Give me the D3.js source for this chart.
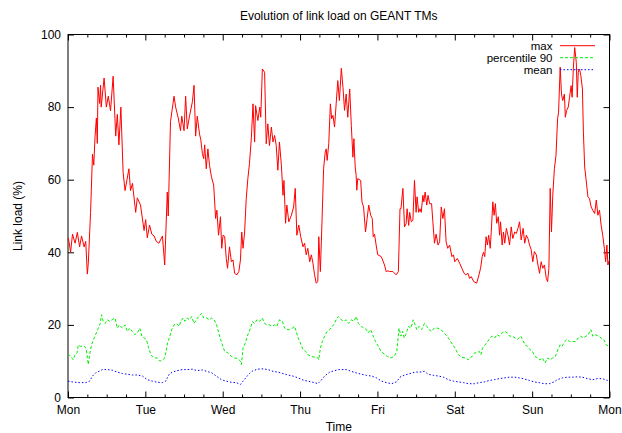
<!DOCTYPE html>
<html><head><meta charset="utf-8">
<script src="https://cdn.jsdelivr.net/npm/d3@7"></script>
<style>
html,body{margin:0;padding:0;background:#fff;}
svg{display:block;font-family:"Liberation Sans",Arial,Helvetica,sans-serif;}
</style></head>
<body><svg id="c" width="622" height="433"></svg>
<script>
const dayLabels = ["Mon","Tue","Wed","Thu","Fri","Sat","Sun","Mon"];
const yTicks = [0,20,40,60,80,100];
const seriesNames = ["max","percentile 90","mean"];
// [hour since Monday 00:00, link load %]
const maxLoad = [[0,44],[0.3,43],[0.8,40],[1.4,45],[2.2,42.5],[2.9,45.5],[3.6,41.5],[4.2,44.5],[5.0,41.5],[5.5,43],[6.0,34],[6.3,37],[7.0,51],[7.6,67],[8.0,64],[8.4,72],[8.8,77],[9.1,70],[9.3,85.5],[9.8,81],[10.1,86],[10.3,80],[11.2,88],[11.9,80],[12.5,83],[13.2,79],[14.0,88.5],[14.8,72],[15.3,78],[15.8,69.6],[16.4,80],[17.1,62],[17.7,57],[18.3,60],[18.9,63],[19.4,57],[20.0,59],[21.0,51],[21.5,55],[22.5,53],[23.6,46],[24.1,49],[24.6,44],[25.3,47.5],[26.0,45],[26.7,44.5],[27.4,43],[28.2,42.5],[29.3,44.5],[30.0,36.5],[30.8,56.6],[31.1,50],[31.8,76],[32.9,83],[33.4,80],[34.2,77],[34.9,73.5],[35.3,77.5],[36.0,73.5],[36.5,83],[37.0,74],[37.7,77.5],[38.6,81.5],[39.1,86],[39.6,72],[40.1,77.5],[40.8,72.6],[41.2,71],[41.7,67.2],[42.1,65.8],[42.4,69.6],[42.9,63],[43.4,68.5],[43.9,64],[44.5,60.8],[45.2,58.5],[45.8,49.3],[46.2,51.6],[46.7,44.7],[47.3,49.8],[47.7,41.1],[48.1,44.7],[48.6,44.4],[49.1,38.3],[49.5,35.6],[50.1,41.5],[50.7,37.4],[51.2,37.9],[51.7,34.2],[52.4,33.8],[53.0,34.7],[53.5,37.9],[53.9,45.6],[54.3,41.1],[54.8,45.6],[55.3,54.8],[55.8,60.3],[56.3,64.4],[56.9,71.7],[57.4,80.9],[57.9,70.4],[58.2,80.4],[58.9,76.3],[59.5,80],[59.8,77.2],[60.3,90.5],[61.0,89.6],[61.5,69.9],[62.0,75.4],[62.5,69.4],[63.1,74.5],[63.6,70.4],[64.1,72.2],[64.6,69.4],[65.1,62.6],[65.6,70.4],[66.2,64],[66.7,55.7],[67.0,59.8],[67.5,48],[67.9,53],[68.5,48.4],[69.3,50.2],[70.0,52.5],[70.5,57.6],[71.0,44.7],[71.6,47.5],[72.2,44.3],[72.9,41.5],[73.4,42.5],[73.9,39.3],[74.4,41.1],[75.0,37.4],[75.5,39.3],[76.0,37],[76.5,33.8],[77.0,31.5],[77.5,31.9],[77.8,44.3],[78.3,34.7],[78.8,48.4],[79.3,63],[79.8,67.6],[80.1,68.5],[80.4,65.3],[80.9,69.9],[81.4,80.9],[81.8,76.8],[82.2,77.7],[82.7,74.5],[83.2,80.9],[83.7,87.3],[84.2,81.8],[84.8,90.7],[85.3,85.5],[85.8,79.1],[86.3,83.6],[86.8,77.2],[87.4,85],[87.9,74.9],[88.4,66.2],[88.7,71.3],[89.1,63.5],[89.4,61.2],[89.6,57.1],[89.9,60.3],[90.8,59.8],[91.2,53.9],[91.7,52.5],[92.3,45.6],[92.8,49.3],[93.3,53],[93.9,50.2],[94.4,49.3],[94.7,44.3],[95.1,45],[95.6,42],[96.1,39.3],[97.2,38.8],[98.2,36.5],[98.7,34.7],[99.3,34.9],[99.8,34.7],[100.8,34.7],[101.8,33.8],[102.5,34.7],[103.0,52],[103.3,52],[103.9,57.6],[104.4,47],[104.9,47.9],[105.2,52],[105.7,47.4],[106.0,51],[106.5,48.4],[107.0,48.8],[107.5,59.8],[108.0,51],[108.3,55.3],[108.8,51],[109.2,52],[109.6,51],[110.1,55.7],[110.4,53.9],[110.8,56.6],[111.3,53],[111.7,55.7],[112.2,53.4],[112.8,53.4],[113.2,48.4],[113.7,42.5],[114.2,45],[114.8,42],[115.3,42.9],[115.8,52.5],[116.3,49.3],[116.8,52],[117.3,42.9],[117.8,41.1],[118.4,42],[119.1,38.8],[119.6,39.3],[120.0,37.4],[120.8,38.3],[121.5,37],[122.2,35.6],[122.9,34.2],[123.4,33.8],[124.1,34.2],[124.6,32.8],[125.1,33.3],[125.9,31.9],[126.8,31.5],[127.5,33.8],[128.0,35.6],[128.5,38.8],[128.9,40],[129.3,38.8],[129.7,44.3],[130.1,42],[130.5,44.7],[131.0,41.1],[131.4,47],[131.8,53.9],[132.2,50.2],[132.6,53.4],[133.0,48],[133.5,49.8],[133.9,44.7],[134.2,48.4],[134.7,42],[135.1,45.6],[135.5,42.5],[136.0,46.6],[136.5,44.7],[137.0,42],[137.5,47],[138.0,43.8],[138.6,45.6],[139.1,45.2],[139.6,46.6],[140.1,48.4],[140.6,43.4],[141.2,46.6],[141.7,42.5],[142.2,44.7],[142.7,43.8],[143.2,42],[143.7,40.7],[144.2,37.4],[144.7,40.2],[145.3,39.3],[145.8,36.5],[146.3,34.2],[146.8,37.4],[147.3,35.6],[147.8,36.5],[148.4,32.8],[148.8,31.9],[149.2,35.6],[149.6,57.6],[150.0,45.6],[150.4,55.7],[150.9,63],[151.4,66.7],[151.9,76.8],[152.2,78.6],[152.7,91],[153.1,83.6],[153.5,81.8],[154.0,83.6],[154.3,77.2],[154.7,79.1],[155.2,80],[155.6,82.7],[156.1,85.9],[156.4,82.7],[156.8,91],[157.2,96.4],[157.7,92.3],[158.0,82.7],[158.3,89.6],[158.7,90.5],[159.1,88.7],[159.6,85],[159.9,73.1],[160.3,63.5],[160.7,60.3],[161.3,55.3],[161.8,54.8],[162.3,52.5],[162.8,51.6],[163.4,50.7],[163.9,54.4],[164.4,50.2],[164.9,51.6],[165.4,47.5],[165.9,44.7],[166.4,41.1],[166.8,37.4],[167.2,42],[167.5,36.5],[168,38]];
const p90Load = [[0,12],[0.3,11.8],[0.8,11.3],[1.6,10.4],[2.2,11.8],[2.8,12.3],[3.2,14.5],[3.9,14.1],[5.0,14.1],[5.6,13.6],[6.3,9.1],[6.7,11.8],[7.3,14.5],[8.1,16.4],[8.8,17.8],[9.4,19.1],[10.0,20.4],[10.4,22.8],[10.9,21],[11.5,20.4],[12.2,21.4],[12.9,21],[13.7,21.4],[14.6,21.9],[15.3,19.1],[16.0,20],[16.9,19.1],[17.7,20],[18.4,18.2],[19.2,19.1],[19.9,18.2],[20.7,17.3],[21.5,17.8],[22.3,19.1],[22.9,16.9],[23.6,16.4],[24.3,16],[24.9,14.1],[25.7,11.8],[26.7,10.9],[27.7,10.9],[28.5,10],[29.4,10.4],[30.0,10.9],[30.4,12.7],[30.9,15],[31.6,16.9],[32.2,18.7],[32.9,20],[33.6,20.4],[34.5,19.6],[35.0,21],[35.7,21.9],[36.3,21],[37.0,21.9],[37.7,21.4],[38.4,22.3],[39.1,20.4],[39.8,21.4],[40.6,22.3],[41.5,23.2],[42.1,21.9],[43.0,21.9],[43.8,21.4],[44.6,21.9],[45.3,21.4],[46.0,20.4],[46.5,18.7],[47.2,16.4],[47.9,14.5],[48.6,12.7],[49.6,12.3],[50.7,11.3],[51.7,10.9],[52.7,10.7],[53.5,10],[53.8,9.1],[54.3,13.6],[55.0,15],[55.8,17.3],[56.6,19.1],[57.2,20.9],[57.9,20.4],[58.6,21.4],[59.5,21],[60.3,21.9],[61.0,20.4],[61.7,20],[62.5,20],[63.4,19.6],[64.1,20],[64.8,19.6],[65.6,21.4],[66.5,21],[67.2,19.1],[67.9,18.7],[68.7,18.7],[69.6,19.1],[70.3,19.6],[70.8,18.2],[71.4,16.4],[72.1,15],[72.9,13.2],[73.7,12.7],[74.4,11.8],[75.5,11.3],[76.5,11.1],[77.5,10.9],[77.8,10.4],[78.3,13.6],[78.9,15.4],[79.6,16.9],[80.4,18.2],[81.2,18.7],[82.0,19.6],[82.7,20.4],[83.4,21.9],[84.0,22.3],[84.8,21.4],[85.6,21],[86.3,21.4],[87.1,20.4],[87.9,21.4],[88.7,21],[89.4,22.3],[90.1,20.4],[91.0,19.6],[91.8,19.1],[92.6,18.7],[93.1,17.8],[93.9,18.7],[94.7,16.9],[95.4,15.4],[96.3,14.1],[97.1,12.7],[98.1,12],[99.1,11.3],[100.2,10.9],[101.2,11.3],[102.0,12.7],[102.4,16.4],[102.7,19.1],[103.3,16.9],[103.8,18.2],[104.3,16.4],[104.8,17.3],[105.6,19.6],[106.4,19.1],[107.1,21.4],[107.7,20],[108.2,18.7],[108.9,19.6],[109.7,18.7],[110.6,20.4],[111.3,19.6],[112.0,18.7],[112.8,18.2],[113.6,19.1],[114.7,19.1],[115.7,18.7],[116.7,17.8],[118.0,16.4],[119.0,15],[120.1,13.6],[121.1,11.8],[122.1,11.1],[123.2,10.9],[124.2,10.4],[124.6,10.9],[125.4,11.3],[126.1,12.3],[126.8,12.3],[127.6,12.7],[128.1,11.8],[128.6,13.6],[129.4,14.5],[130.2,15.4],[130.9,16.4],[131.6,16.9],[132.4,16.4],[133.1,17.3],[133.9,16.9],[134.7,17.8],[135.5,18.2],[136.3,17.8],[137.0,16.9],[137.8,16.9],[138.7,16.4],[139.4,16],[139.9,16.4],[140.5,16.9],[141.0,16],[141.8,14.5],[142.6,14.1],[143.3,13.2],[144.1,12.7],[144.9,11.3],[145.7,10.9],[146.4,10.4],[147.2,10.9],[148.0,9.5],[148.8,10.9],[149.6,10.4],[150.4,10.9],[151.2,11.3],[152.0,13.2],[152.7,14.5],[153.3,14.1],[154.1,15.4],[154.8,16],[155.6,15.4],[156.7,15.4],[157.5,15.4],[158.3,16.4],[159.0,16.9],[159.9,16.4],[160.7,16.9],[161.4,17.3],[162.2,18.7],[162.8,16.9],[163.6,17.3],[164.6,16.9],[165.4,16.4],[166.2,16],[167.0,14.5],[167.7,14.1],[168,13.8]];
const meanLoad = [[0,4.5],[1.3,4.3],[3.4,4.1],[5.5,4.1],[6.7,4.5],[7.6,5.9],[8.6,6.8],[9.6,7.2],[10.7,7.7],[12.2,7.7],[13.8,7.5],[15.3,7],[16.9,6.6],[18.4,6.4],[20.0,6.2],[21.5,6.2],[23.1,5.9],[24.6,4.9],[26.2,4.5],[27.7,4.2],[29.3,4.1],[30.3,4.5],[31.4,6.4],[32.4,7.0],[33.9,7.4],[35.5,7.7],[37.0,7.7],[38.6,7.8],[40.1,7.4],[41.7,7.6],[43.0,7.2],[44.6,6.8],[46.0,5.9],[47.6,4.9],[49.1,4.5],[50.7,4.2],[52.2,4.1],[53.5,3.6],[54.3,4.5],[55.3,5.6],[56.3,6.6],[57.4,7.4],[58.9,7.8],[60.5,7.9],[62.0,7.7],[63.6,7.2],[65.1,7.0],[66.7,6.6],[68.2,6.2],[69.8,5.9],[71.4,5.4],[72.9,4.8],[74.4,4.5],[76.0,4.2],[77.5,3.8],[78.3,4.5],[79.6,5.9],[81.2,7.0],[82.7,7.4],[84.1,7.7],[85.5,7.7],[86.3,7.7],[87.9,7.2],[89.4,6.8],[91.0,6.4],[92.6,6.1],[94.2,5.9],[95.7,5.4],[97.3,4.5],[98.8,4.1],[100.4,3.8],[101.9,4.3],[103.0,5.6],[104.5,6.2],[106.1,6.6],[107.7,7.0],[109.2,7.0],[110.6,7.2],[111.8,6.4],[113.4,6.1],[115.0,5.9],[116.5,5.6],[118.0,4.9],[119.6,4.5],[121.1,4.3],[122.7,4.1],[124.2,3.8],[126.1,3.8],[127.6,4.1],[129.2,4.3],[130.7,4.7],[132.3,4.9],[133.8,5.2],[135.4,5.4],[136.9,5.6],[138.5,5.6],[140.0,5.4],[141.6,5.1],[143.1,4.7],[144.6,4.3],[146.2,4.1],[147.7,3.8],[149.3,3.8],[150.8,4.3],[151.8,4.9],[153.4,5.4],[154.9,5.6],[156.5,5.6],[158.0,5.7],[159.6,5.6],[161.1,5.2],[162.7,4.9],[164.2,5.2],[165.8,5.2],[167.4,4.7],[168,4.6]];

const W = 622, H = 433;
const L = 68, R = 609.5, T = 34.5, B = 397.5;
const svg = d3.select("#c");
const x = d3.scaleLinear().domain([0,168]).range([L,R]);
const y = d3.scaleLinear().domain([0,100]).range([B,T]);
const fs = 12;

const dayHours = dayLabels.map((d,i)=>i*24);
const minorHours = d3.range(0,169,6).filter(h=>h%24!==0);

function styleAxis(g){ g.select(".domain").remove(); g.selectAll("line").attr("stroke","#000").attr("stroke-width",1); g.selectAll("text").attr("fill","#000").style("font-size",fs+"px").style("font-family","'Liberation Sans',Arial,sans-serif"); }

svg.append("g").attr("transform",`translate(0,${B})`)
  .call(d3.axisBottom(x).tickValues(dayHours).tickFormat((d,i)=>dayLabels[i]).tickSize(-6).tickPadding(8))
  .call(styleAxis);
svg.append("g").attr("transform",`translate(0,${B})`)
  .call(d3.axisBottom(x).tickValues(minorHours).tickFormat("").tickSize(-3))
  .call(styleAxis);
svg.append("g").attr("transform",`translate(0,${T})`)
  .call(d3.axisTop(x).tickValues(dayHours).tickFormat("").tickSize(-6))
  .call(styleAxis);
svg.append("g").attr("transform",`translate(0,${T})`)
  .call(d3.axisTop(x).tickValues(minorHours).tickFormat("").tickSize(-3))
  .call(styleAxis);
svg.append("g").attr("transform",`translate(${L},0)`)
  .call(d3.axisLeft(y).tickValues(yTicks).tickSize(-6).tickPadding(7))
  .call(styleAxis);
svg.append("g").attr("transform",`translate(${R},0)`)
  .call(d3.axisRight(y).tickValues(yTicks).tickFormat("").tickSize(-6))
  .call(styleAxis);

svg.append("rect").attr("x",L).attr("y",T).attr("width",R-L).attr("height",B-T)
  .attr("fill","none").attr("stroke","#000").attr("stroke-width",1);

const line = d3.line().x(d=>x(d[0])).y(d=>y(d[1]));
const styles = [
  {data:maxLoad, color:"#ff0000", dash:null, w:1},
  {data:p90Load, color:"#00ee00", dash:"3,2", w:1},
  {data:meanLoad, color:"#0000ff", dash:"1.5,2", w:1}
];
styles.forEach(s=>{
  svg.append("path").datum(s.data).attr("d",line).attr("fill","none")
    .attr("stroke",s.color).attr("stroke-width",s.w).attr("stroke-dasharray",s.dash)
    .attr("stroke-linejoin","round");
});

const legY = [45.7,57.7,69.7];
seriesNames.forEach((n,i)=>{
  svg.append("text").attr("x",552.5).attr("y",legY[i]).attr("dy","0.35em")
    .attr("text-anchor","end").style("font-size","11.5px").text(n);
  svg.append("line").attr("x1",560).attr("x2",595).attr("y1",legY[i]).attr("y2",legY[i])
    .attr("stroke",styles[i].color).attr("stroke-width",1).attr("stroke-dasharray",styles[i].dash);
});

svg.append("text").attr("x",(L+R)/2).attr("y",20).attr("text-anchor","middle").style("font-size",fs+"px")
  .text("Evolution of link load on GEANT TMs");
svg.append("text").attr("x",(L+R)/2).attr("y",430.5).attr("text-anchor","middle").style("font-size",fs+"px")
  .text("Time");
svg.append("text").attr("transform",`translate(22,${(T+B)/2}) rotate(-90)`).attr("text-anchor","middle")
  .style("font-size",fs+"px").text("Link load (%)");
</script></body></html>
